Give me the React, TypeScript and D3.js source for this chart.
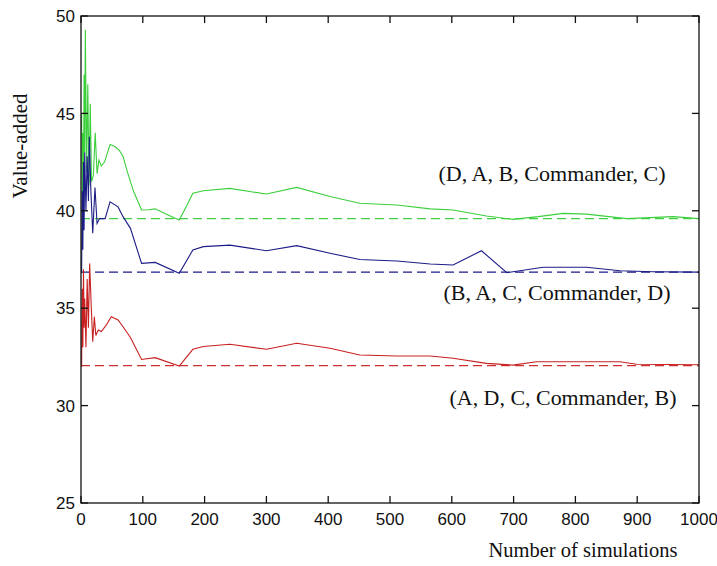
import React from "react";
import * as d3 from "d3";

const xTicks = [0, 100, 200, 300, 400, 500, 600, 700, 800, 900, 1000];
const yTicks = [25, 30, 35, 40, 45, 50];

const greenSeries: [number, number][] = [
  [1, 45], [2, 39.5], [3, 44], [4, 41], [5, 47], [6, 43], [7, 49.3], [9, 42], [11, 46.5], [13, 41.3],
  [15, 45.5], [17, 41.5], [20, 41.8], [23, 44], [26, 41.9], [29, 42.6], [33, 42.3], [38, 42.5],
  [47, 43.4], [55, 43.3], [62, 43.1], [68, 42.8], [75, 42], [85, 41], [98, 40.04], [110, 40.05],
  [120, 40.1], [140, 39.8], [159, 39.53], [170, 40.2], [181, 40.9], [198, 41.03], [241, 41.15],
  [300, 40.86], [349, 41.2], [403, 40.73], [451, 40.39], [511, 40.3], [565, 40.1], [602, 40.04],
  [656, 39.73], [699, 39.56], [740, 39.7], [780, 39.87], [818, 39.83], [883, 39.6], [958, 39.7], [1000, 39.6],
];

const blueSeries: [number, number][] = [
  [1, 36.8], [2, 41], [3, 38], [4, 42.5], [5, 39], [6, 43], [8, 40], [10, 42.8], [12, 40.5], [13.5, 43.8],
  [16, 41], [19, 38.85], [22.6, 41.2], [26, 39.35], [30, 39.6], [39, 39.6], [47, 40.46], [60, 40.2],
  [68, 39.7], [80, 39.1], [98, 37.3], [120, 37.35], [159, 36.79], [181, 37.99], [198, 38.16], [241, 38.24],
  [300, 37.95], [349, 38.21], [403, 37.82], [451, 37.5], [511, 37.42], [565, 37.27], [602, 37.22],
  [648, 37.95], [689, 36.82], [748, 37.1], [818, 37.1], [872, 36.92], [926, 36.87], [1000, 36.85],
];

const redSeries: [number, number][] = [
  [1, 32], [2, 36], [3, 33], [4, 37], [5, 34], [6, 35.5], [8, 33], [10, 36.5], [12, 34], [14, 37.3],
  [16.7, 35.0], [19, 33.28], [21.6, 34.56], [24, 33.6], [28, 33.88], [33, 33.8], [41, 34.14], [49, 34.56],
  [60, 34.4], [68, 34.05], [80, 33.5], [98, 32.37], [120, 32.46], [159, 32.03], [181, 32.89], [198, 33.03],
  [241, 33.15], [300, 32.89], [349, 33.2], [403, 32.94], [451, 32.6], [511, 32.55], [565, 32.55],
  [602, 32.43], [656, 32.17], [699, 32.08], [737, 32.25], [872, 32.25], [899, 32.12], [1000, 32.1],
];

const greenRef = 39.6;
const blueRef = 36.85;
const redRef = 32.05;

const labels = ["(D, A, B, Commander, C)", "(B, A, C, Commander, D)", "(A, D, C, Commander, B)"];
const labelPos: [number, number][] = [[552, 41.55], [557, 35.4], [563, 30.05]];

const W = 717, H = 566;
const L = 81, R = 699, T = 16, B = 503;

export default function App() {
  const x = d3.scaleLinear().domain([0, 1000]).range([L, R]);
  const y = d3.scaleLinear().domain([25, 50]).range([B, T]);
  const line = d3.line<[number, number]>().x(d => x(d[0])).y(d => y(d[1]));
  const series = [
    { data: greenSeries, ref: greenRef, color: "#3ccf3c", dash: "#44d044" },
    { data: blueSeries, ref: blueRef, color: "#1c1c86", dash: "#1c1c86" },
    { data: redSeries, ref: redRef, color: "#c82020", dash: "#cc3030" },
  ];
  const tickFont = "'Liberation Sans', Arial, sans-serif";
  const serif = "'Liberation Serif', 'Times New Roman', serif";
  return (
    <svg width={W} height={H} style={{ position: "absolute", left: 0, top: 0, background: "#fff" }}>
      <rect x={0} y={0} width={W} height={H} fill="#fff" />
      {series.map((s, i) => (
        <line key={"r" + i} x1={x(0)} x2={x(1000)} y1={y(s.ref)} y2={y(s.ref)}
          stroke={s.dash} strokeWidth={1.2} strokeDasharray="9,5" />
      ))}
      {series.map((s, i) => (
        <path key={"s" + i} d={line(s.data) || ""} fill="none" stroke={s.color} strokeWidth={1.1} />
      ))}
      <rect x={L} y={T} width={R - L} height={B - T} fill="none" stroke="#111" strokeWidth={1.3} />
      {xTicks.map(t => (
        <g key={"x" + t}>
          <line x1={x(t)} x2={x(t)} y1={B} y2={B - 7} stroke="#111" strokeWidth={1.3} />
          <line x1={x(t)} x2={x(t)} y1={T} y2={T + 7} stroke="#111" strokeWidth={1.3} />
          <text x={x(t)} y={525} textAnchor="middle" fontFamily={tickFont} fontSize={17} fill="#111">{t}</text>
        </g>
      ))}
      {yTicks.map(t => (
        <g key={"y" + t}>
          <line x1={L} x2={L + 7} y1={y(t)} y2={y(t)} stroke="#111" strokeWidth={1.3} />
          <line x1={R} x2={R - 7} y1={y(t)} y2={y(t)} stroke="#111" strokeWidth={1.3} />
          <text x={L - 6} y={y(t)} dy="0.36em" textAnchor="end" fontFamily={tickFont} fontSize={17} fill="#111">{t}</text>
        </g>
      ))}
      {labels.map((lab, i) => (
        <text key={"l" + i} x={labelPos[i][0]} y={y(labelPos[i][1])} textAnchor="middle"
          fontFamily={serif} fontSize={21} fill="#111" textLength={227} lengthAdjust="spacingAndGlyphs">{lab}</text>
      ))}
      <text x={583} y={557} textAnchor="middle" fontFamily={serif} fontSize={20.5} fill="#111">Number of simulations</text>
      <text transform={`translate(27,146) rotate(-90)`} textAnchor="middle" fontFamily={serif} fontSize={21} fill="#111">Value-added</text>
    </svg>
  );
}
